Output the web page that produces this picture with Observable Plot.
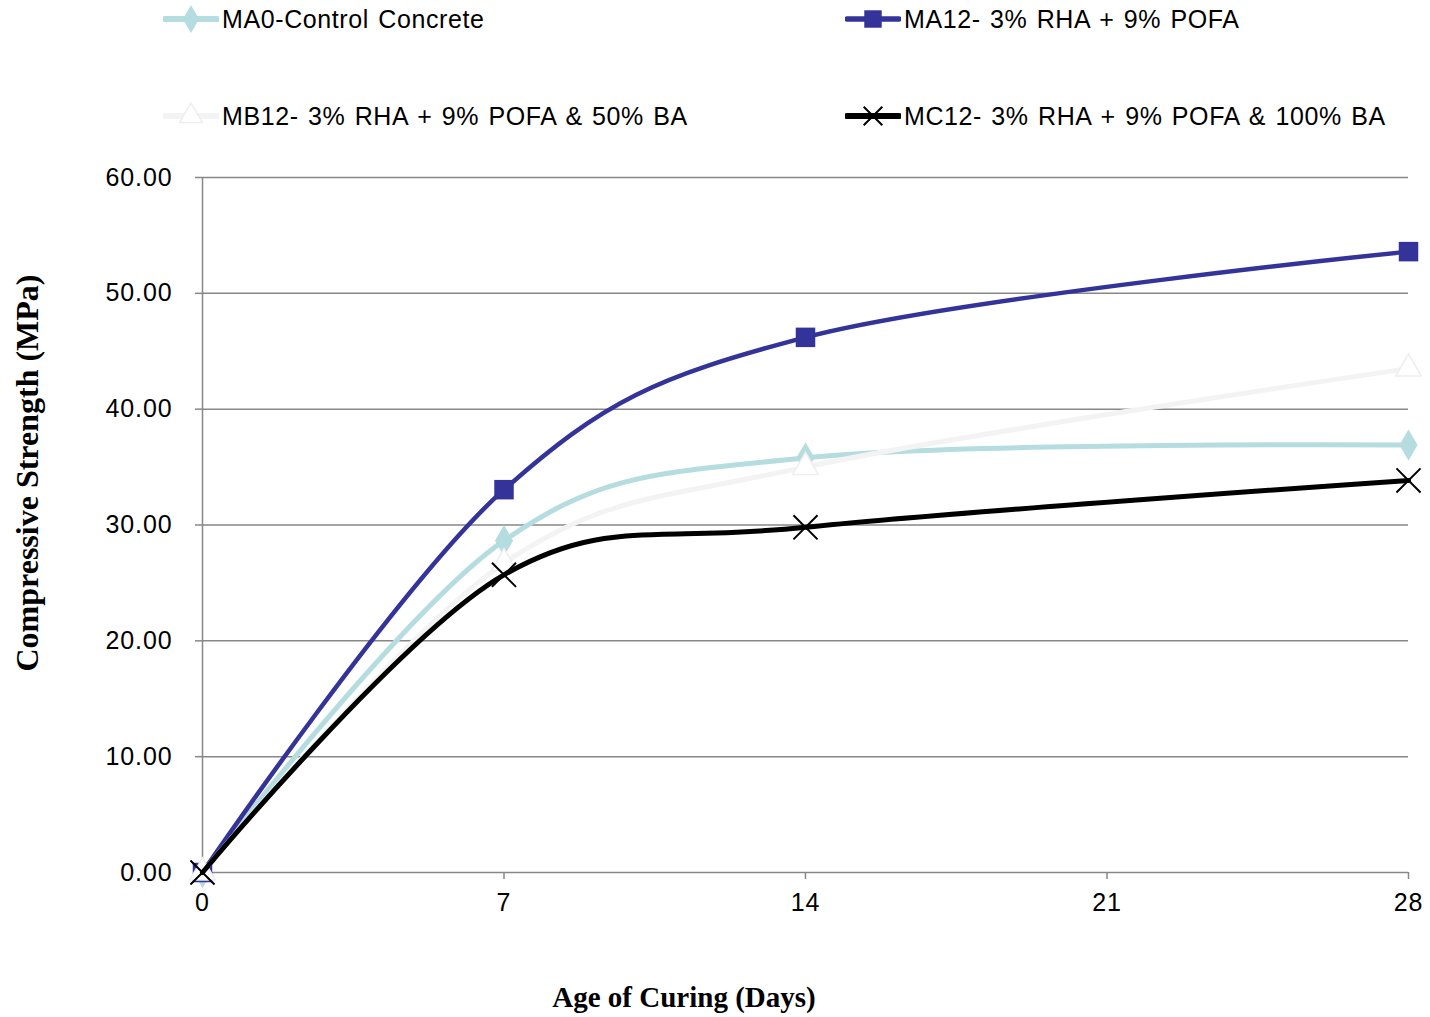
<!DOCTYPE html>
<html>
<head>
<meta charset="utf-8">
<script src="https://cdn.jsdelivr.net/npm/d3@7"></script>
<script src="https://cdn.jsdelivr.net/npm/@observablehq/plot@0.6"></script>
<style>
  html, body { margin: 0; padding: 0; background: #fff; }
  #wrap { position: relative; width: 1430px; height: 1017px; overflow: hidden; }
  #chart { position: absolute; left: 0; top: 0; }
  #chart svg text { letter-spacing: 0.9px; }
  .leg { position: absolute; display: flex; align-items: center; font-family: "Liberation Sans", Arial, sans-serif; font-size: 25px; letter-spacing: 0.6px; word-spacing: 1.8px; color: #000; white-space: nowrap; }
  .leg svg { display: block; margin-right: 3px; }
  .ttl { position: absolute; font-family: "Liberation Serif", "Times New Roman", serif; font-weight: bold; color: #000; white-space: nowrap; }
</style>
</head>
<body>
<div id="wrap">
  <div id="chart"></div>
  <div id="legend"></div>
  <div class="ttl" id="xt" style="left:684px; top:997px; font-size:29px; transform: translate(-50%,-50%);"></div>
  <div class="ttl" id="yt" style="left:27px; top:473px; font-size:32px; transform: translate(-50%,-50%) rotate(-90deg);"></div>
</div>
<script>
// ---- data ----
const days = [0, 7, 14, 28];
const xTicks = [0, 7, 14, 21, 28];
const yTicks = [0, 10, 20, 30, 40, 50, 60];
const seriesNames = [
  "MA0-Control Concrete",
  "MA12- 3% RHA + 9% POFA",
  "MB12- 3% RHA + 9% POFA & 50% BA",
  "MC12- 3% RHA + 9% POFA & 100% BA"
];
const ma0  = [0, 28.65, 35.8, 36.9];
const ma12 = [0, 33.05, 46.2, 53.6];
const mb12 = [0, 26.7, 35.0, 43.5];
const mc12 = [0, 25.7, 29.8, 33.85];
const xLabel = "Age of Curing (Days)";
const yLabel = "Compressive Strength (MPa)";

// ---- styles ----
const styles = [
  {color: "#b5dde0", width: 5, symbol: "diamond", r: 9.5, fill: "#b5dde0", stroke: "none", sw: 0},
  {color: "#333399", width: 4.5, symbol: "square", r: 11, fill: "#333399", stroke: "none", sw: 0},
  {color: "#f3f3f3", width: 5, symbol: "triangle", r: 9.5, fill: "#ffffff", stroke: "#eeeeee", sw: 1.5},
  {color: "#000000", width: 5, symbol: "times", r: 11, fill: "none", stroke: "#000000", sw: 2}
];
const values = [ma0, ma12, mb12, mc12];
const tables = values.map((vals, i) => days.map((d, j) => ({day: d, value: vals[j], series: seriesNames[i]})));

const marks = [];
marks.push(Plot.ruleY(yTicks.slice(1), {stroke: "#878787", strokeWidth: 1.5}));
marks.push(Plot.ruleX([0], {stroke: "#878787", strokeWidth: 1.5}));
marks.push(Plot.ruleY([0], {stroke: "#878787", strokeWidth: 1.5}));
marks.push(Plot.axisY({ticks: yTicks, tickSize: 7, tickPadding: 23, tickFormat: d => d.toFixed(2), stroke: "#878787", strokeWidth: 1.5, fill: "#000", fontSize: 25, label: null}));
marks.push(Plot.axisX({ticks: xTicks, tickSize: 7, tickPadding: 14, tickFormat: d => String(d), stroke: "#878787", strokeWidth: 1.5, fill: "#000", fontSize: 25, label: null}));
tables.forEach((t, i) => {
  const s = styles[i];
  marks.push(Plot.line(t, {x: "day", y: "value", stroke: s.color, strokeWidth: s.width, curve: "cardinal", tension: 0}));
  marks.push(Plot.dot(t, {x: "day", y: "value", symbol: () => s.symbol, r: s.r, fill: s.fill, stroke: s.stroke, strokeWidth: s.sw}));
});

const chart = Plot.plot({
  width: 1430,
  height: 1017,
  marginTop: 177,
  marginBottom: 145,
  marginLeft: 202,
  marginRight: 22,
  style: {fontFamily: "'Liberation Sans', Arial, sans-serif", fontSize: "25px", color: "#000", background: "#fff"},
  x: {domain: [0, 28], axis: null},
  y: {domain: [0, 60], axis: null},
  symbol: {type: "identity"},
  marks
});
document.getElementById("chart").appendChild(chart);

// ---- legend ----
const legPos = [[163, 19], [845, 19], [163, 116], [845, 116]];
const leg = document.getElementById("legend");
seriesNames.forEach((name, i) => {
  const s = styles[i];
  const div = document.createElement("div");
  div.className = "leg";
  div.style.left = legPos[i][0] + "px";
  div.style.top = (legPos[i][1] - 16) + "px";
  div.style.height = "32px";
  const sym = d3.symbol().type({
    diamond: d3.symbolDiamond, square: d3.symbolSquare, triangle: d3.symbolTriangle, times: d3.symbolTimes
  }[s.symbol]).size(Math.PI * s.r * s.r * (s.symbol === "times" ? 0.6 : 0.8))();
  div.innerHTML = `<svg width="56" height="32"><line x1="2" x2="54" y1="16" y2="16" stroke="${s.color}" stroke-width="${s.width + 1}" stroke-linecap="round"/>`
    + `<path transform="translate(28,16)" d="${sym}" fill="${s.fill}" stroke="${s.stroke}" stroke-width="${s.sw}"/></svg><span>${name}</span>`;
  leg.appendChild(div);
});
document.getElementById("xt").textContent = xLabel;
document.getElementById("yt").textContent = yLabel;
</script>
</body>
</html>
